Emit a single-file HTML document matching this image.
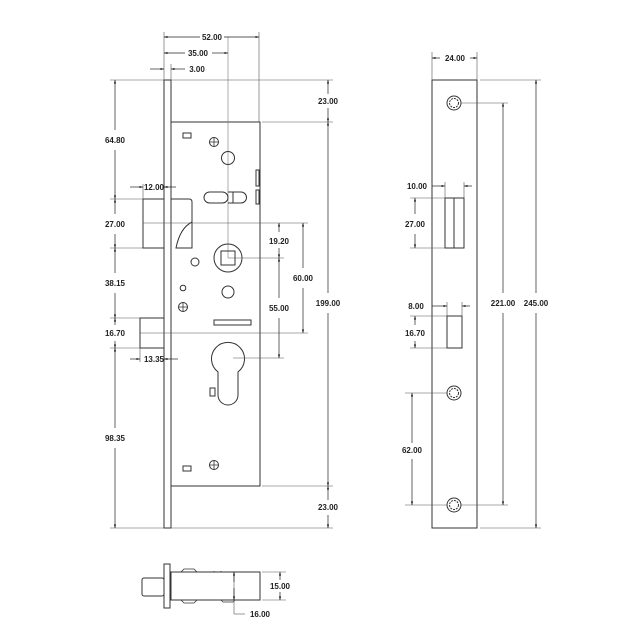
<!DOCTYPE html>
<html><head><style>
html,body{margin:0;padding:0;background:#fff}
svg{display:block}
text{font-family:"Liberation Sans",sans-serif;font-size:8px;font-weight:bold;fill:#222}
</style></head><body>
<svg width="640" height="640" viewBox="0 0 640 640" xmlns="http://www.w3.org/2000/svg">
<defs>
<marker id="a" viewBox="0 0 10 10" refX="10" refY="5" markerWidth="5" markerHeight="5" orient="auto-start-reverse"><path d="M0,2L10,5L0,8z" fill="#111"/></marker>
</defs>
<g fill="none" stroke="#333" stroke-width="1">
<rect x="164" y="80" width="7" height="448"/>
<rect x="171" y="122" width="89" height="364"/>
<rect x="143" y="199" width="21" height="49"/>
<path d="M171,199 H189 Q192,199 192,202 V248 H176 Q180,228 192,222"/>
<rect x="140" y="318" width="24" height="30"/>
<line x1="228" y1="37" x2="228" y2="258" stroke="#777" stroke-width="0.6"/>
<rect x="183" y="133" width="8" height="5"/>
<circle cx="214" cy="142" r="4.5"/><path d="M209.5,142h9M214,137.5v9" stroke-width="0.8"/>
<circle cx="228" cy="158" r="6.5"/>
<rect x="256" y="170" width="3" height="16"/>
<rect x="256" y="190" width="3" height="14"/>
<rect x="204" y="192" width="24" height="11" rx="5.5"/>
<path d="M228,192 H241 A5.5,5.5 0 0 1 241,203 H228 M233,192v11"/>
<circle cx="228" cy="258" r="14"/><rect x="221" y="251" width="14" height="14"/>
<circle cx="195" cy="262" r="4"/>
<circle cx="228" cy="292" r="6"/>
<circle cx="183" cy="288" r="2.8"/>
<circle cx="183" cy="307" r="4.5"/><path d="M178.5,307h9M183,302.5v9" stroke-width="0.8"/>
<rect x="214" y="320" width="37" height="5"/>
<path d="M218,395 V372 A16.5,16.5 0 1 1 238,372 V395 A10,10 0 0 1 218,395 Z"/>
<rect x="210" y="388" width="5" height="8"/>
<rect x="183" y="466" width="8" height="5"/>
<circle cx="214" cy="465" r="4.5"/><path d="M209.5,465h9M214,460.5v9" stroke-width="0.8"/>
</g>
<g stroke="#555" stroke-width="0.6" fill="none">
<line x1="164" y1="32" x2="164" y2="80"/><line x1="259" y1="32" x2="259" y2="122"/>
<line x1="171" y1="64" x2="171" y2="80"/>
<line x1="110" y1="80" x2="164" y2="80"/><line x1="171" y1="80" x2="333" y2="80"/>
<line x1="262" y1="122" x2="333" y2="122"/>
<line x1="262" y1="486" x2="333" y2="486"/>
<line x1="110" y1="528" x2="164" y2="528"/><line x1="171" y1="528" x2="333" y2="528"/>
<line x1="110" y1="199" x2="143" y2="199"/><line x1="110" y1="248" x2="143" y2="248"/>
<line x1="110" y1="318" x2="140" y2="318"/><line x1="110" y1="348" x2="140" y2="348"/>
<line x1="143" y1="184" x2="143" y2="199"/>
<line x1="140" y1="348" x2="140" y2="362"/>
<line x1="143" y1="223" x2="308" y2="223"/>
<line x1="228" y1="258" x2="284" y2="258"/>
<line x1="140" y1="333" x2="308" y2="333"/>
<line x1="233" y1="358" x2="284" y2="358"/>
</g>
<g stroke="#222" stroke-width="0.7" fill="none" marker-end="url(#a)">
<line x1="200" y1="37" x2="164" y2="37"/><line x1="224" y1="37" x2="259" y2="37"/>
<line x1="185" y1="53" x2="164" y2="53"/><line x1="212" y1="53" x2="228" y2="53"/>
<line x1="150" y1="69" x2="164" y2="69"/><line x1="185" y1="69" x2="171" y2="69"/>
<line x1="130" y1="187" x2="143" y2="187"/><line x1="176" y1="187" x2="164" y2="187"/>
<line x1="130" y1="359" x2="140" y2="359"/><line x1="178" y1="359" x2="164" y2="359"/>
<line x1="115" y1="130" x2="115" y2="80"/><line x1="115" y1="150" x2="115" y2="199"/>
<line x1="115" y1="214" x2="115" y2="199"/><line x1="115" y1="234" x2="115" y2="248"/>
<line x1="115" y1="273" x2="115" y2="248"/><line x1="115" y1="293" x2="115" y2="318"/>
<line x1="115" y1="325" x2="115" y2="318"/><line x1="115" y1="341" x2="115" y2="348"/>
<line x1="115" y1="428" x2="115" y2="348"/><line x1="115" y1="448" x2="115" y2="528"/>
<line x1="328" y1="94" x2="328" y2="80"/><line x1="328" y1="108" x2="328" y2="122"/>
<line x1="328" y1="293" x2="328" y2="122"/><line x1="328" y1="313" x2="328" y2="486"/>
<line x1="328" y1="500" x2="328" y2="486"/><line x1="328" y1="515" x2="328" y2="528"/>
<line x1="279" y1="232" x2="279" y2="223"/><line x1="279" y1="248" x2="279" y2="258"/>
<line x1="279" y1="298" x2="279" y2="258"/><line x1="279" y1="318" x2="279" y2="358"/>
<line x1="303" y1="268" x2="303" y2="223"/><line x1="303" y1="288" x2="303" y2="333"/>
</g>
<g text-anchor="middle">
<text x="212" y="40">52.00</text><text x="198" y="56">35.00</text><text x="197" y="72">3.00</text>
<text x="154" y="190">12.00</text><text x="154" y="362">13.35</text>
<text x="115" y="143">64.80</text><text x="115" y="227">27.00</text><text x="115" y="286">38.15</text>
<text x="115" y="336">16.70</text><text x="115" y="441">98.35</text>
<text x="328" y="104">23.00</text><text x="328" y="306">199.00</text><text x="328" y="510">23.00</text>
<text x="279" y="244">19.20</text><text x="279" y="311">55.00</text><text x="303" y="281">60.00</text>
</g>
<g fill="none" stroke="#333" stroke-width="1">
<rect x="432" y="80" width="45" height="448"/>
<rect x="445" y="198" width="19" height="50"/><line x1="454" y1="198" x2="454" y2="248"/>
<rect x="447" y="316" width="15" height="32"/>
<circle cx="454" cy="103" r="7"/><circle cx="454" cy="103" r="4.5" stroke-dasharray="2 1"/>
<circle cx="454" cy="393" r="7"/><circle cx="454" cy="393" r="4.5" stroke-dasharray="2 1"/>
<circle cx="454" cy="505" r="7"/><circle cx="454" cy="505" r="4.5" stroke-dasharray="2 1"/>
</g>
<g stroke="#555" stroke-width="0.6" fill="none">
<line x1="432" y1="52" x2="432" y2="80"/><line x1="477" y1="52" x2="477" y2="80"/>
<line x1="480" y1="80" x2="541" y2="80"/><line x1="480" y1="528" x2="541" y2="528"/>
<line x1="461" y1="103" x2="508" y2="103"/><line x1="461" y1="505" x2="508" y2="505"/>
<line x1="405" y1="393" x2="447" y2="393"/><line x1="405" y1="505" x2="447" y2="505"/>
<line x1="410" y1="198" x2="445" y2="198"/><line x1="410" y1="248" x2="445" y2="248"/>
<line x1="410" y1="316" x2="447" y2="316"/><line x1="410" y1="348" x2="447" y2="348"/>
<line x1="445" y1="182" x2="445" y2="198"/><line x1="464" y1="182" x2="464" y2="198"/>
<line x1="447" y1="302" x2="447" y2="316"/><line x1="462" y1="302" x2="462" y2="316"/>
</g>
<g stroke="#222" stroke-width="0.7" fill="none" marker-end="url(#a)">
<line x1="440" y1="58" x2="432" y2="58"/><line x1="470" y1="58" x2="477" y2="58"/>
<line x1="503" y1="293" x2="503" y2="103"/><line x1="503" y1="313" x2="503" y2="505"/>
<line x1="536" y1="293" x2="536" y2="80"/><line x1="536" y1="313" x2="536" y2="528"/>
<line x1="412" y1="443" x2="412" y2="393"/><line x1="412" y1="459" x2="412" y2="505"/>
<line x1="415" y1="214" x2="415" y2="198"/><line x1="415" y1="234" x2="415" y2="248"/>
<line x1="415" y1="325" x2="415" y2="316"/><line x1="415" y1="341" x2="415" y2="348"/>
<line x1="432" y1="186" x2="445" y2="186"/><line x1="472" y1="186" x2="464" y2="186"/>
<line x1="432" y1="306" x2="447" y2="306"/><line x1="470" y1="306" x2="462" y2="306"/>
</g>
<g text-anchor="middle">
<text x="455" y="61">24.00</text>
<text x="503" y="306">221.00</text><text x="536" y="306">245.00</text>
<text x="412" y="453">62.00</text>
<text x="415" y="227">27.00</text><text x="415" y="336">16.70</text>
<text x="417" y="189">10.00</text><text x="416" y="309">8.00</text>
</g>
<g fill="none" stroke="#333" stroke-width="1">
<rect x="164" y="564" width="6" height="44"/>
<rect x="142" y="578" width="22" height="18" rx="2"/>
<rect x="171" y="572" width="89" height="28"/>
<path d="M181,572 l3,-3 h10 l3,3 M209,572 h6 M221,572 v-1 M214,572 v-1" stroke-width="0.8"/>
<path d="M181,600 l3,3 h10 l3,-3 M205,600 h8 M221,600 l2,2 h10 l2,-2" stroke-width="0.8"/>
</g>
<g stroke="#555" stroke-width="0.6" fill="none">
<line x1="262" y1="572" x2="286" y2="572"/><line x1="262" y1="600" x2="286" y2="600"/>
<line x1="234" y1="572" x2="234" y2="614"/><line x1="234" y1="614" x2="245" y2="614"/>
</g>
<g stroke="#222" stroke-width="0.7" fill="none" marker-end="url(#a)">
<line x1="280" y1="580" x2="280" y2="572"/><line x1="280" y1="592" x2="280" y2="600"/>
<line x1="234" y1="582" x2="234" y2="572"/><line x1="234" y1="588" x2="234" y2="600"/>
</g>
<text x="280" y="589" text-anchor="middle">15.00</text>
<text x="260" y="617" text-anchor="middle">16.00</text>
</svg>
</body></html>
